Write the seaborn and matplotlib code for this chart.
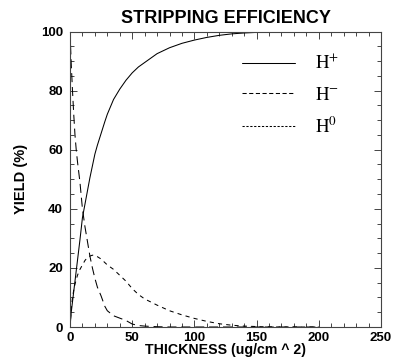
import numpy as np
import pandas as pd
import matplotlib
matplotlib.use("Agg")
import matplotlib.pyplot as plt
from matplotlib.lines import Line2D
from matplotlib.ticker import MultipleLocator
import seaborn as sns

# ---- data ----
thickness = [0, 1, 2, 3, 4, 5, 6, 8, 10, 12, 14, 16, 18, 20, 22, 25, 28, 30, 35, 40,
             45, 50, 55, 60, 70, 80, 90, 100, 110, 120, 130, 140, 150, 160, 170, 180,
             190, 200]
h_plus = [0, 5, 8.5, 12, 15.5, 19, 22.5, 29.5, 37, 41.5, 46, 50.5, 54.5, 58.5, 61.5,
          65.5, 69.5, 72, 77, 80.5, 83.5, 86, 88, 89.5, 92.5, 94.5, 96, 97.1, 98,
          98.7, 99.2, 99.5, 99.7, 99.8, 99.9, 100, 100, 100]
h_minus = [100, 89, 80, 72, 65, 60, 56, 49, 40, 34, 29, 24, 20, 16.5, 13.5, 10.5, 7,
           5.5, 3.8, 3, 2.2, 1, 0.5, 0.3, 0.1, 0, 0, 0, 0, 0, 0, 0, 0, 0, 0, 0, 0, 0]
h_zero = [0, 6, 10, 12.5, 14.5, 16, 17.5, 19.5, 21, 22.5, 23.5, 24, 24.3, 24.2, 23.8,
          23, 21.8, 21, 19.5, 17.5, 15.5, 13, 11, 9.5, 7.4, 5.5, 4.1, 2.9, 1.9, 1.1,
          0.6, 0.3, 0.15, 0.05, 0, 0, 0, 0]
series_labels = [r"$\mathrm{H}^{+}$", r"$\mathrm{H}^{-}$", r"$\mathrm{H}^{0}$"]
x_ticks = [0, 50, 100, 150, 200, 250]
y_ticks = [0, 20, 40, 60, 80, 100]

sns.set_theme(style="ticks")
plt.rcParams["font.family"] = ["Liberation Sans", "DejaVu Sans"]
plt.rcParams["mathtext.fontset"] = "stix"
plt.rcParams["lines.scale_dashes"] = False
plt.rcParams["text.color"] = "black"
plt.rcParams["axes.labelcolor"] = "black"
plt.rcParams["xtick.labelcolor"] = "black"
plt.rcParams["ytick.labelcolor"] = "black"

fig = plt.figure(figsize=(3.93, 3.59), dpi=100)
ax = fig.add_axes([70 / 393, 1 - 327 / 359, 311 / 393, 295.5 / 359])

df = pd.DataFrame({"x": thickness, "hp": h_plus, "hm": h_minus, "h0": h_zero})
lw = 0.75
sns.lineplot(data=df, x="x", y="hp", ax=ax, color="black", lw=lw)
l2 = sns.lineplot(data=df, x="x", y="hm", ax=ax, color="black", lw=lw).lines[-1]
l2.set_dashes((6.5, 3.5))
l3 = sns.lineplot(data=df, x="x", y="h0", ax=ax, color="black", lw=lw).lines[-1]
l3.set_dashes((3, 3))

ax.set_xlim(0, 250)
ax.set_ylim(0, 100)
ax.set_xticks(x_ticks)
ax.set_yticks(y_ticks)
ax.xaxis.set_minor_locator(MultipleLocator(10))
ax.yaxis.set_minor_locator(MultipleLocator(5))
ax.tick_params(which="both", direction="in", top=True, right=True, width=0.7,
               color="#444444")
ax.tick_params(which="major", length=5, labelsize=9.5, pad=5)
ax.tick_params(axis="x", which="major", pad=3.5)
ax.tick_params(which="minor", length=3)
for lab in ax.get_xticklabels() + ax.get_yticklabels():
    lab.set_fontweight("bold")
for s in ax.spines.values():
    s.set_linewidth(0.8)
    s.set_color("#444444")
    s.set_visible(True)

ax.set_title("STRIPPING EFFICIENCY", fontsize=13, fontweight="bold", pad=6,
             color="black")
ax.set_xlabel("THICKNESS (ug/cm ^ 2)", fontsize=10.2, fontweight="bold",
              labelpad=-0.5)
ax.set_ylabel("YIELD (%)", fontsize=10.5, fontweight="bold", labelpad=9)

handles = [
    Line2D([], [], color="black", lw=lw),
    Line2D([], [], color="black", lw=lw, dashes=(3, 1.8)),
    Line2D([], [], color="black", lw=lw, dashes=(1.6, 1.2)),
]
ax.legend(handles, series_labels, loc="upper left", bbox_to_anchor=(0.553, 0.925),
          frameon=False, prop={"size": 13.5}, handlelength=2.85,
          handletextpad=1.05, labelspacing=0.7, borderpad=0, borderaxespad=0)

fig.savefig("out.png", dpi=100)
